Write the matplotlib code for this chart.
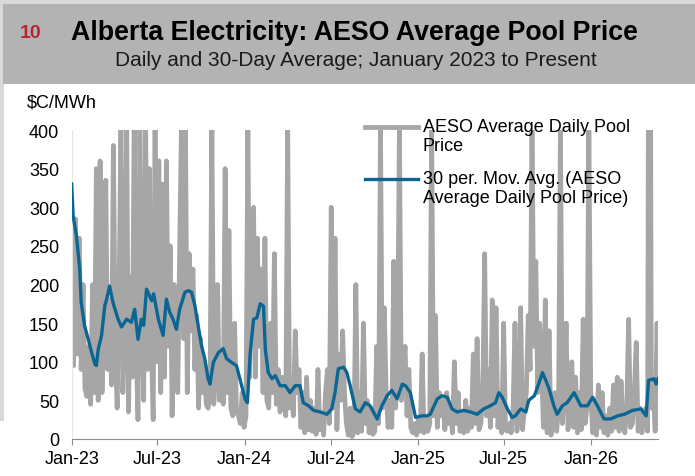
import datetime as dt
import matplotlib
matplotlib.use("Agg")
import matplotlib.pyplot as plt
import matplotlib.dates as mdates
from matplotlib.lines import Line2D
from matplotlib.patches import Rectangle

plt.rcParams['font.family'] = ['Liberation Sans', 'DejaVu Sans']

# ---------------- data ----------------
start_date = dt.date(2023, 1, 1)
gray_step_days = 4
# AESO average daily pool price ($C/MWh), one reading every 4 days from 2023-01-01
daily_price = [
    150, 95, 285, 110, 260, 90, 200, 65,
    55, 120, 45, 200, 60, 350, 50, 360,
    60, 150, 335, 90, 180, 70, 380, 120,
    40, 190, 410, 60, 150, 420, 35, 210,
    80, 430, 120, 25, 400, 160, 50, 420,
    90, 350, 130, 25, 410, 100, 360, 60,
    330, 80, 360, 120, 250, 30, 200, 110,
    60, 250, 420, 130, 430, 60, 240, 140,
    220, 90, 160, 40, 130, 60, 100, 45,
    40, 60, 410, 45, 90, 200, 50, 110,
    45, 350, 60, 270, 40, 30, 150, 35,
    30, 20, 60, 15, 30, 410, 80, 250,
    300, 80, 260, 120, 220, 60, 260, 50,
    40, 150, 60, 240, 45, 90, 35, 80,
    50, 30, 410, 40, 70, 30, 140, 60,
    90, 15, 60, 8, 80, 12, 50, 10,
    40, 6, 90, 12, 30, 5, 60, 90,
    20, 300, 40, 260, 12, 110, 50, 140,
    60, 20, 5, 40, 3, 10, 200, 8,
    60, 10, 150, 20, 50, 8, 40, 6,
    10, 120, 20, 410, 40, 170, 60, 15,
    50, 15, 230, 40, 100, 410, 50, 90,
    120, 30, 90, 15, 8, 20, 5, 25,
    10, 110, 8, 25, 10, 20, 410, 30,
    160, 15, 60, 30, 50, 12, 60, 20,
    40, 8, 100, 20, 60, 10, 35, 8,
    50, 10, 40, 15, 110, 20, 130, 12,
    20, 60, 240, 30, 90, 15, 180, 30,
    170, 15, 50, 8, 150, 12, 10, 20,
    8, 40, 150, 10, 30, 170, 12, 40,
    60, 160, 90, 410, 120, 230, 60, 150,
    100, 15, 180, 8, 140, 5, 20, 60,
    10, 40, 410, 20, 60, 150, 12, 50,
    100, 15, 80, 8, 60, 12, 155, 20,
    40, 410, 60, 8, 50, 5, 70, 15,
    60, 8, 30, 5, 40, 10, 70, 15,
    80, 10, 75, 20, 8, 40, 155, 15,
    20, 60, 125, 10, 40, 8, 30, 40,
    10, 999, 40, 60, 10, 150, 20,
]

# 30-period moving average, read at these day offsets from 2023-01-01
ma_days = [
    0, 3, 10, 17, 20, 27, 35, 42, 49, 52, 56, 63, 70, 73, 80, 87, 98, 105,
    116, 126, 133, 140, 147, 152, 158, 169, 173, 183, 193, 200, 207, 214,
    221, 228, 239, 246, 253, 260, 267, 274, 281, 288, 292, 299, 310, 320,
    327, 338, 348, 359, 366, 371, 377, 384, 391, 398, 405, 409, 415, 423,
    430, 440, 451, 461, 472, 482, 489, 500, 511, 525, 539, 549, 556, 563,
    574, 581, 588, 599, 609, 620, 630, 645, 655, 666, 676, 687, 698, 705,
    715, 726, 740, 751, 757, 772, 782, 793, 803, 814, 828, 842, 856, 870,
    884, 895, 902, 909, 920, 930, 937, 948, 959, 965, 977, 987, 994, 1001,
    1008, 1018, 1025, 1036, 1046, 1061, 1075, 1089, 1100, 1110, 1124, 1138,
    1153, 1167, 1184, 1202, 1213, 1218, 1230, 1234, 1238,
]
ma_values = [
    330, 289, 263, 220, 177, 147, 129, 112, 97, 95, 116, 134, 173, 179, 198, 177, 155, 145,
    155, 151, 168, 129, 155, 147, 194, 179, 188, 155, 134, 181, 164, 155,
    142, 168, 190, 192, 190, 173, 147, 121, 104, 78, 71, 99, 112, 117,
    104, 99, 95, 69, 52, 47, 112, 155, 157, 175, 172, 115, 86, 78,
    82, 69, 69, 60, 69, 69, 47, 43, 37, 35, 32, 39, 60, 91,
    93, 86, 69, 39, 35, 47, 43, 26, 43, 56, 63, 52, 71, 69,
    60, 28, 30, 30, 32, 52, 56, 54, 39, 35, 37, 35, 32, 39,
    43, 47, 60, 54, 39, 28, 30, 39, 35, 50, 56, 73, 86, 76,
    65, 43, 32, 43, 47, 60, 43, 43, 54, 43, 26, 26,
    30, 32, 37, 39, 30, 76, 78, 71, 78,
]

y_ticks = [0, 50, 100, 150, 200, 250, 300, 350, 400]
x_tick_dates = [dt.date(2023, 1, 1), dt.date(2023, 7, 1), dt.date(2024, 1, 1),
                dt.date(2024, 7, 1), dt.date(2025, 1, 1), dt.date(2025, 7, 1),
                dt.date(2026, 1, 1)]
x_tick_labels = ['Jan-23', 'Jul-23', 'Jan-24', 'Jul-24', 'Jan-25', 'Jul-25', 'Jan-26']
legend_labels = ['AESO Average Daily Pool\nPrice',
                 '30 per. Mov. Avg. (AESO\nAverage Daily Pool Price)']

gray_dates = [start_date + dt.timedelta(days=gray_step_days * i) for i in range(len(daily_price))]
ma_dates = [start_date + dt.timedelta(days=d) for d in ma_days]

# ---------------- figure ----------------
W, H = 695, 477
fig = plt.figure(figsize=(W / 100, H / 100), dpi=100)
fig.patch.set_facecolor('white')

def fx(px):
    return px / W

def fy(py):
    return 1 - py / H

# frame / header
fig.add_artist(Rectangle((0, fy(5)), 1, 5 / H, transform=fig.transFigure,
                         facecolor='#d9d9d9', edgecolor='none', zorder=0))
fig.add_artist(Rectangle((0, fy(422)), fx(4), 422 / H, transform=fig.transFigure,
                         facecolor='#d9d9d9', edgecolor='none', zorder=0))
fig.add_artist(Rectangle((fx(3), fy(85)), 1 - fx(3), 80 / H, transform=fig.transFigure,
                         facecolor='#b3b3b3', edgecolor='none', zorder=0))

fig.text(fx(31), fy(33), '10', color='#b5272d', fontsize=14, fontweight='bold',
         ha='center', va='center')
fig.text(fx(354), fy(33), 'Alberta Electricity: AESO Average Pool Price', color='black',
         fontsize=19.3, fontweight='bold', ha='center', va='center')
fig.text(fx(356), fy(61), 'Daily and 30-Day Average; January 2023 to Present', color='#1a1a1a',
         fontsize=15, ha='center', va='center')

# axes
ax_left, ax_right, ax_bottom, ax_top = 71.7, 658, 440, 131
ax = fig.add_axes([fx(ax_left), fy(ax_bottom), (ax_right - ax_left) / W, (ax_bottom - ax_top) / H])
ax.set_facecolor('none')

ax.plot(gray_dates, daily_price, color='#a6a6a6', lw=3.4, solid_joinstyle='round', zorder=2)
ax.plot(ma_dates, ma_values, color='#0b6694', lw=2.4, solid_joinstyle='round', zorder=3)

ax.set_xlim(dt.date(2023, 1, 1), dt.date(2026, 5, 23))
ax.set_ylim(0, 400)
ax.set_yticks(y_ticks)
ax.set_yticklabels([str(v) for v in y_ticks])
ax.tick_params(axis='y', length=0, pad=9, labelsize=13, labelcolor='black')
ax.set_xticks([mdates.date2num(d) for d in x_tick_dates])
ax.set_xticklabels(x_tick_labels)
ax.tick_params(axis='x', length=4, width=0.8, color='#8c8c8c', pad=4, labelsize=13,
               labelcolor='black')

for s in ['top', 'right']:
    ax.spines[s].set_visible(False)
ax.spines['bottom'].set_color('#8c8c8c')
ax.spines['bottom'].set_linewidth(0.8)
ax.spines['left'].set_color('#e6e6e6')
ax.spines['left'].set_linewidth(0.8)

fig.text(fx(27), fy(103), '$C/MWh', fontsize=13, ha='left', va='center', color='black')

# legend (drawn manually to match layout)
fig.add_artist(Line2D([fx(365), fx(418)], [fy(128), fy(128)], transform=fig.transFigure,
                      color='#a6a6a6', lw=3.4))
fig.add_artist(Line2D([fx(365), fx(418)], [fy(180), fy(180)], transform=fig.transFigure,
                      color='#0b6694', lw=2.4))
fig.text(fx(423), fy(119), legend_labels[0], fontsize=13, ha='left', va='top',
         linespacing=1.15, color='black')
fig.text(fx(423), fy(171), legend_labels[1], fontsize=13, ha='left', va='top',
         linespacing=1.15, color='black')

fig.savefig('out.png', dpi=100)
